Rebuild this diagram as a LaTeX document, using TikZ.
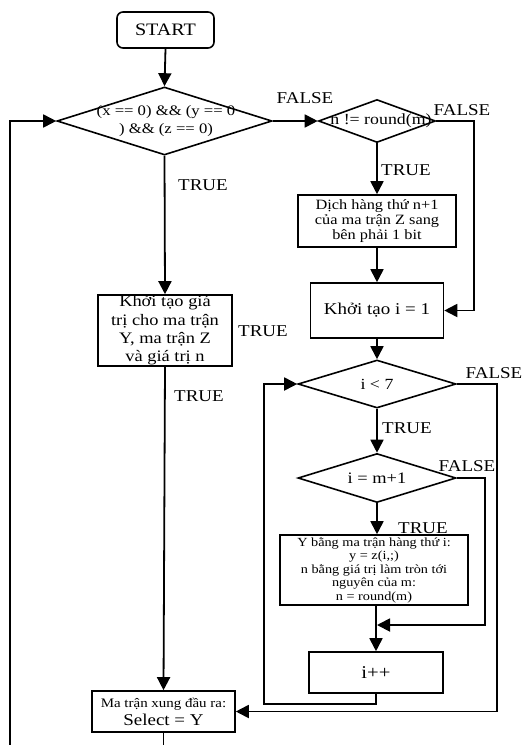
\documentclass[tikz,border=0pt]{standalone}
\usepackage{fontspec}
\setmainfont[FakeStretch=1.15]{Liberation Serif}
\usetikzlibrary{shapes.geometric,arrows.meta}
\newcommand{\fsz}[1]{\fontsize{#1}{1.25\dimexpr#1pt\relax}\selectfont}
\begin{document}
\begin{tikzpicture}[x=1pt,y=-1pt,
  ln/.style={line width=1.8pt},
  arr/.style={ln,-{Triangle[length=13pt,width=13pt]}},
  box/.style={draw,line width=1.6pt,rectangle,inner sep=0pt,align=center},
  dia/.style={draw,line width=1.6pt,diamond,inner sep=0pt},
  lab/.style={font=\fsz{16.5},inner sep=0pt}]
\useasboundingbox[fill=white] (0,0) rectangle (525,745);
% nodes
\node[box,rounded corners=6pt,minimum width=97pt,minimum height=36pt,font=\fsz{17.5}] (start) at (165.5,30) {START};
\node[dia,minimum width=215pt,minimum height=68pt] (d1) at (164.5,121) {};
\node[align=center,inner sep=0pt,font=\fontsize{14.5}{18}\selectfont] (t1) at (166,121) {(x == 0) \&\& (y == 0\\) \&\& (z == 0)};
\node[dia,minimum width=117pt,minimum height=43pt] (d2) at (377,121) {};
\node[inner sep=0pt,font=\fsz{15.5}] (t2) at (381,121) {n != round(m)};
\node[box,minimum width=158pt,minimum height=52pt,font=\fontsize{14.2}{14.8}\selectfont] (dich) at (377,221) {Dịch hàng thứ n+1\\của ma trận Z sang\\bên phải 1 bit};
\node[box,minimum width=133pt,minimum height=55pt,font=\fsz{16.5}] (kt1) at (377,310.5) {Khởi tạo i = 1};
\node[dia,minimum width=158pt,minimum height=48pt] (d3) at (377,384) {};
\node[inner sep=0pt,font=\fsz{15.5}] (t3) at (377,384) {i < 7};
\node[dia,minimum width=158pt,minimum height=49pt] (d4) at (377,478) {};
\node[inner sep=0pt,font=\fsz{16}] (t4) at (377,478) {i = m+1};
\node[box,minimum width=188pt,minimum height=70pt,font=\fontsize{12.4}{13.5}\selectfont] (ybox) at (374,570) {Y bằng ma trận hàng thứ i:\\y = z(i,;)\\n bằng giá trị làm tròn tới\\nguyên của m:\\n = round(m)};
\node[box,minimum width=134pt,minimum height=71pt,font=\fontsize{16}{18.3}\selectfont] (init) at (165,330.5) {Khởi tạo giá\\trị cho ma trận\\Y, ma trận Z\\và giá trị n};
\node[box,minimum width=134pt,minimum height=41pt,font=\fsz{18}] (ipp) at (376,672.5) {i++};
\node[box,minimum width=143pt,minimum height=41pt,font=\fontsize{16.5}{18}\selectfont] (sel) at (163.5,711.5) {{\fontsize{13}{15}\selectfont Ma trận xung đầu ra:}\\{\fontsize{16.5}{18}\selectfont Select = Y}};
\coordinate (merge) at (377,625);
% labels
\node[lab] (f1) at (305,98) {FALSE};
\node[lab] (f2) at (462,110) {FALSE};
\node[lab] (tr2) at (406,170) {TRUE};
\node[lab] (f3) at (494,373) {FALSE};
\node[lab] (tr3) at (407,428) {TRUE};
\node[lab] (f4) at (467,466) {FALSE};
\node[lab] (tr4) at (423,528) {TRUE};
\node[lab] (tr1) at (203,185) {TRUE};
\node[lab] (tr5) at (263,331) {TRUE};
\node[lab] (tr6) at (199,396) {TRUE};
% connectors
\draw[arr] (start.south) -- (d1.north);
\draw[arr] (d1.east) -- (d2.west);
\draw[arr] (d2.south) -- (dich.north -| d2.south);
\draw[arr] (dich.south -| kt1.north) -- (kt1.north);
\draw[arr] (d2.east) -- (474,121) |- (kt1.east);
\draw[arr] (kt1.south) -- (d3.north);
\draw[arr] (d3.south) -- (d4.north);
\draw[arr] (d4.south) -- (d4.south |- ybox.north);
\draw[arr] (ybox.south -| ipp.north) -- (ipp.north);
\draw[arr] (d4.east) -- (485,478) |- (merge);
\draw[arr] (ipp.south) |- (264,704) |- (d3.west);
\draw[arr] (d3.east) -- (497,384) |- (sel.east);
\draw[arr] (d1.south) -- (init.north);
\draw[arr] (init.south) -- (sel.north);
\draw[arr] (sel.south) -- ++(0,25) -| (10,121) -- (d1.west);
\end{tikzpicture}
\end{document}
